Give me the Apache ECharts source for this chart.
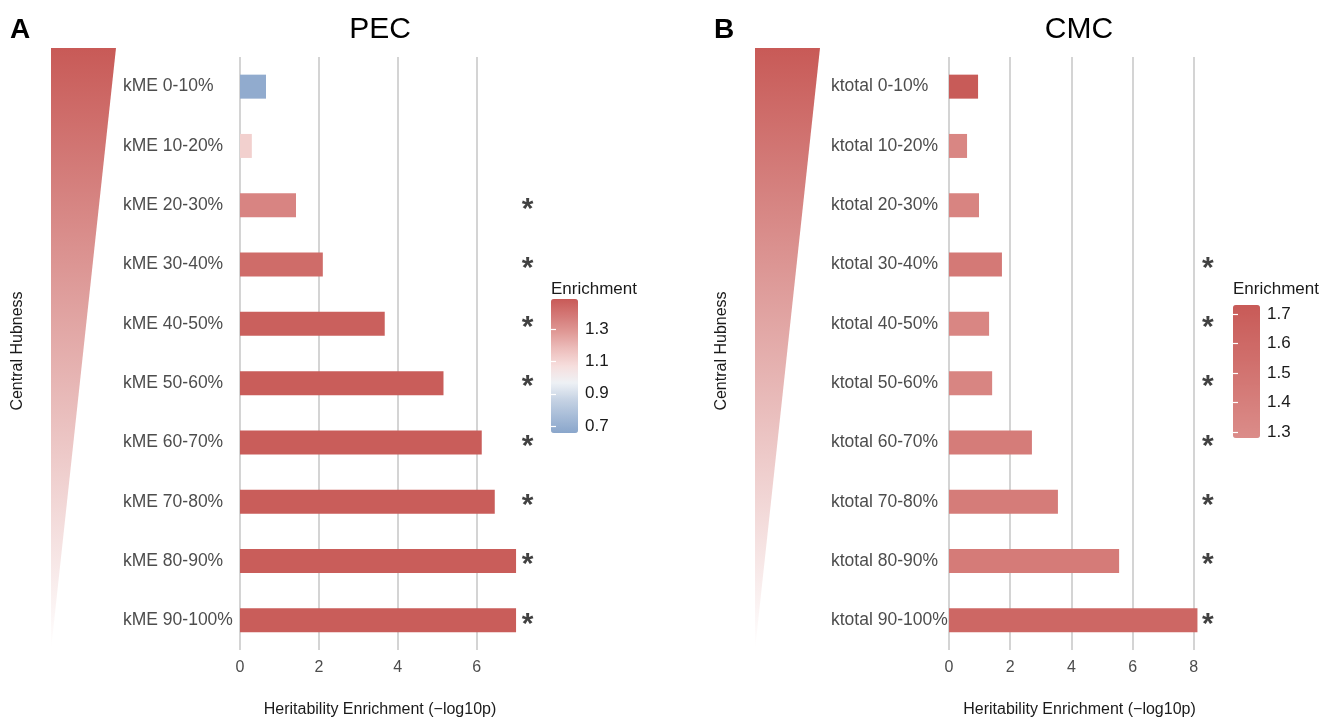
<!DOCTYPE html>
<html>
<head>
<meta charset="utf-8">
<script src="https://cdn.jsdelivr.net/npm/echarts@6/dist/echarts.min.js"></script>
<style>
  html, body { margin: 0; background: #fff; }
  #chart { width: 1338px; height: 718px; }
</style>
</head>
<body>
<div id="chart"></div>
<script>
const pecCats = ["kME 0-10%", "kME 10-20%", "kME 20-30%", "kME 30-40%", "kME 40-50%",
  "kME 50-60%", "kME 60-70%", "kME 70-80%", "kME 80-90%", "kME 90-100%"];
const pecValues = [0.66, 0.3, 1.42, 2.1, 3.67, 5.16, 6.13, 6.46, 7.0, 7.0];
const pecEnrich = [0.68, 1.12, 1.35, 1.43, 1.47, 1.48, 1.48, 1.48, 1.48, 1.48];
const pecSig = [0, 0, 1, 1, 1, 1, 1, 1, 1, 1];

const cmcCats = ["ktotal 0-10%", "ktotal 10-20%", "ktotal 20-30%", "ktotal 30-40%", "ktotal 40-50%",
  "ktotal 50-60%", "ktotal 60-70%", "ktotal 70-80%", "ktotal 80-90%", "ktotal 90-100%"];
const cmcValues = [0.95, 0.59, 0.98, 1.73, 1.31, 1.41, 2.71, 3.56, 5.56, 8.12];
const cmcEnrich = [1.72, 1.33, 1.35, 1.45, 1.33, 1.34, 1.42, 1.42, 1.43, 1.61];
const cmcSig = [0, 0, 0, 1, 1, 1, 1, 1, 1, 1];

const pecLegendTicks = [0.7, 0.9, 1.1, 1.3];
const cmcLegendTicks = [1.3, 1.4, 1.5, 1.6, 1.7];

const FONT = "Liberation Sans, Arial, sans-serif";
const RED = "#C85A57";
const pecScale = ["#8AA6CB", "#A7BCD8", "#C6D3E4", "#EEF1F5", "#F6DEDD",
  "#EDBEBC", "#E09A97", "#D47977", RED];
const cmcScale = ["#DB8C89", RED];

const chart = echarts.init(document.getElementById("chart"));

function barPanel(i, left, width, max, margin) {
  return {
    grid: { left: left, top: 57, width: width, height: 593, outerBoundsMode: "none" },
    xAxis: {
      gridIndex: i, type: "value", min: 0, max: max, interval: 2,
      axisLine: { show: false }, axisTick: { show: false },
      axisLabel: { color: "#4D4D4D", fontSize: 16, fontFamily: FONT, margin: 10, showMaxLabel: false },
      splitLine: { show: true, showMaxLine: false, lineStyle: { color: "#CACACA", width: 1.6 } },
      name: "Heritability Enrichment (\u2212log10p)", nameLocation: "middle", nameGap: 52,
      nameTextStyle: { color: "#1A1A1A", fontSize: 16, fontFamily: FONT },
    },
    yAxis: {
      gridIndex: i, type: "category", inverse: true,
      data: i === 0 ? pecCats : cmcCats,
      axisLine: { show: false }, axisTick: { show: false },
      axisLabel: { color: "#4D4D4D", fontSize: 17.5, fontFamily: FONT, align: "left", margin: margin },
    },
  };
}

function legendPanel(i, left, top, height, min, max, ticks) {
  const tickAxis = (pos, labels) => ({
    gridIndex: i, type: "value", min: min, max: max, position: pos, z: 10,
    axisLine: { show: false },
    axisTick: { show: true, inside: true, length: 5, customValues: ticks, lineStyle: { color: "#fff", width: 1.2 } },
    axisLabel: { show: labels, customValues: ticks, color: "#1A1A1A", fontSize: 17, fontFamily: FONT, margin: 7 },
    splitLine: { show: false },
  });
  return {
    grid: { left: left, top: top, width: 27, height: height, outerBoundsMode: "none" },
    xAxis: { gridIndex: i, type: "value", show: false },
    yAxis: [tickAxis("right", true), tickAxis("left", false)],
  };
}

const pA = barPanel(0, 240, 280, 7.1, 117);
const pB = barPanel(1, 949, 261, 8.53, 118);
const lA = legendPanel(2, 551, 299, 134, 0.656, 1.49, pecLegendTicks);
const lB = legendPanel(3, 1233, 305, 133, 1.28, 1.73, cmcLegendTicks);

function starData(sig, cats, x) {
  return sig.map((s, k) => (s ? [x, cats[k]] : null)).filter((d) => d);
}

const starLabel = {
  show: true, formatter: "*", position: "inside", offset: [0, 4],
  fontSize: 30, fontFamily: FONT, color: "#111", fontWeight: "bold",
};

function triangle(x0) {
  return {
    type: "polygon",
    shape: { points: [[x0, 48], [x0 + 65, 48], [x0, 650]] },
    style: {
      fill: new echarts.graphic.LinearGradient(0, 0, 0, 1, [
        { offset: 0, color: RED },
        { offset: 1, color: "#FFFFFF" },
      ]),
    },
  };
}

function text(x, y, str, size, opts) {
  return {
    type: "text", x: x, y: y,
    style: Object.assign({ text: str, fontSize: size, fontFamily: FONT, fill: "#000",
      textAlign: "center", textVerticalAlign: "middle" }, opts || {}),
  };
}

const hub = (x) => Object.assign(text(x, 351, "Central Hubness", 16, { fill: "#1A1A1A" }), { rotation: Math.PI / 2 });

chart.setOption({
  animation: false,
  grid: [pA.grid, pB.grid, lA.grid, lB.grid],
  xAxis: [pA.xAxis, pB.xAxis, lA.xAxis, lB.xAxis],
  yAxis: [pA.yAxis, pB.yAxis, ...lA.yAxis, ...lB.yAxis],
  visualMap: [
    {
      type: "continuous", seriesIndex: 0, dimension: 2, min: 0.656, max: 1.49,
      inRange: { color: pecScale }, left: 551, top: 299, itemWidth: 27, itemHeight: 134,
      calculable: false, padding: 0, text: null, hoverLink: false,
    },
    {
      type: "continuous", seriesIndex: 1, dimension: 2, min: 1.28, max: 1.73,
      inRange: { color: cmcScale }, left: 1233, top: 305, itemWidth: 27, itemHeight: 133,
      calculable: false, padding: 0, text: null, hoverLink: false,
    },
  ],
  series: [
    {
      type: "bar", xAxisIndex: 0, yAxisIndex: 0, barWidth: 24,
      encode: { x: 0, y: 1 },
      data: pecValues.map((v, k) => [v, pecCats[k], pecEnrich[k]]),
    },
    {
      type: "bar", xAxisIndex: 1, yAxisIndex: 1, barWidth: 24,
      encode: { x: 0, y: 1 },
      data: cmcValues.map((v, k) => [v, cmcCats[k], cmcEnrich[k]]),
    },
    {
      type: "scatter", xAxisIndex: 0, yAxisIndex: 0, clip: false, symbolSize: 1,
      itemStyle: { color: "rgba(0,0,0,0)" }, label: starLabel,
      data: starData(pecSig, pecCats, 7.29),
    },
    {
      type: "scatter", xAxisIndex: 1, yAxisIndex: 1, clip: false, symbolSize: 1,
      itemStyle: { color: "rgba(0,0,0,0)" }, label: starLabel,
      data: starData(cmcSig, cmcCats, 8.46),
    },
  ],
  graphic: [
    triangle(51),
    triangle(755),
    hub(18),
    hub(722),
    text(20, 30, "A", 28, { fontWeight: "bold" }),
    text(724, 30, "B", 28, { fontWeight: "bold" }),
    text(380, 30, "PEC", 30),
    text(1079, 30, "CMC", 30),
    text(551, 289, "Enrichment", 17, { textAlign: "left", fill: "#1A1A1A" }),
    text(1233, 289, "Enrichment", 17, { textAlign: "left", fill: "#1A1A1A" }),
  ],
});

window.addEventListener("resize", () => chart.resize());
</script>
</body>
</html>
